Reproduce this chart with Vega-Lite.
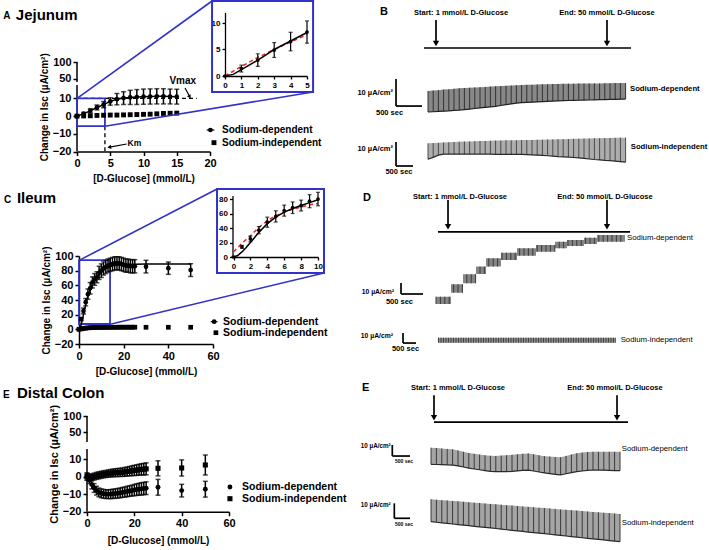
{
"$schema": "https://vega.github.io/schema/vega-lite/v6.json",
"width": 709, "height": 550, "autosize": "none", "padding": 0, "background": "white",
"config": {
  "view": {"stroke": null},
  "font": "Liberation Sans",
  "axis": {"grid": false, "domainColor": "black", "domainWidth": 1.5, "tickColor": "black", "tickWidth": 1.5, "tickSize": 4, "labelColor": "black", "labelFontWeight": "bold", "labelFontSize": 11, "labelPadding": 2, "labelFlush": false, "labelOverlap": false, "titleColor": "black", "titleFontWeight": "bold", "titleFontSize": 10}
},
"datasets": {
  "Adep": [{"x":0,"y":0,"e":0},{"x":1,"y":1.4,"e":0.65},{"x":2,"y":3,"e":1.2},{"x":3,"y":4.9,"e":1.4},{"x":4,"y":6.5,"e":1.75},{"x":5,"y":8.3,"e":2.1},{"x":6,"y":9.6,"e":3.2},{"x":7,"y":10.2,"e":3.6},{"x":8,"y":10.6,"e":4},{"x":9,"y":10.8,"e":4.2},{"x":10,"y":11,"e":4.3},{"x":11,"y":11.1,"e":4.3},{"x":12,"y":11.2,"e":4.3},{"x":13,"y":11.2,"e":4.3},{"x":14,"y":11.1,"e":4.2},{"x":15,"y":11,"e":4.2}],
  "Aind": [{"x":0,"y":0},{"x":1,"y":0.1},{"x":2,"y":0.2},{"x":3,"y":0.4},{"x":4,"y":0.5},{"x":5,"y":0.6},{"x":6,"y":0.6},{"x":7,"y":0.7},{"x":8,"y":0.8},{"x":9,"y":0.9},{"x":10,"y":1},{"x":11,"y":1.1},{"x":12,"y":1.3},{"x":13,"y":1.5},{"x":14,"y":1.6},{"x":15,"y":1.7}],
  "AinsetBlack": [{"x":0,"y":0},{"x":0.5,"y":0.3},{"x":1,"y":1.2},{"x":1.5,"y":2.1},{"x":2,"y":3.0},{"x":2.5,"y":4.0},{"x":3,"y":5.0},{"x":3.5,"y":5.8},{"x":4,"y":6.6},{"x":4.5,"y":7.4},{"x":5,"y":8.2}],
  "AinsetRed": [{"x":0,"y":0},{"x":1,"y":1.8},{"x":2,"y":3.5},{"x":3,"y":5},{"x":4,"y":6.4},{"x":5,"y":7.8}],
  "Cdep": [{"x":0,"y":0,"e":0},{"x":1,"y":14,"e":2},{"x":2,"y":25,"e":4},{"x":3,"y":37,"e":5},{"x":4,"y":48,"e":7},{"x":5,"y":56,"e":7.8},{"x":6,"y":64,"e":7.6},{"x":7,"y":68,"e":8},{"x":8,"y":71,"e":7.5},{"x":9,"y":77,"e":9},{"x":10,"y":80,"e":9.3},{"x":11,"y":83,"e":9},{"x":12,"y":85,"e":9},{"x":13,"y":87,"e":9},{"x":14,"y":88,"e":9},{"x":15,"y":89,"e":9},{"x":16,"y":90,"e":9},{"x":17,"y":90,"e":9},{"x":18,"y":90,"e":9},{"x":19,"y":89,"e":9},{"x":20,"y":88,"e":9},{"x":21,"y":87,"e":9},{"x":22,"y":87,"e":9},{"x":23,"y":86,"e":9},{"x":24,"y":86,"e":9},{"x":25,"y":86,"e":9},{"x":30,"y":85.5,"e":8.6},{"x":40,"y":83.4,"e":8.4},{"x":50,"y":80.8,"e":8.7}],
  "Cind": [{"x":0,"y":0},{"x":1,"y":0.6},{"x":2,"y":1.2},{"x":3,"y":1.6},{"x":4,"y":2},{"x":5,"y":2.2},{"x":6,"y":2.4},{"x":7,"y":2.5},{"x":8,"y":2.5},{"x":9,"y":2.6},{"x":10,"y":2.6},{"x":11,"y":2.7},{"x":12,"y":2.7},{"x":13,"y":2.7},{"x":14,"y":2.8},{"x":15,"y":2.8},{"x":16,"y":2.8},{"x":17,"y":2.8},{"x":18,"y":2.9},{"x":19,"y":2.9},{"x":20,"y":2.9},{"x":21,"y":2.9},{"x":22,"y":2.9},{"x":23,"y":2.9},{"x":24,"y":2.9},{"x":25,"y":2.9},{"x":30,"y":2.8},{"x":40,"y":2.8},{"x":50,"y":2.8}],
  "Cfit": [{"x":0,"y":0},{"x":0.5,"y":2},{"x":1,"y":7},{"x":1.5,"y":13},{"x":2,"y":20},{"x":2.5,"y":27},{"x":3,"y":34},{"x":3.5,"y":40},{"x":4,"y":46},{"x":5,"y":55},{"x":6,"y":62},{"x":7,"y":67},{"x":8,"y":71},{"x":9,"y":75},{"x":10,"y":79},{"x":12,"y":83},{"x":14,"y":86},{"x":16,"y":87.5},{"x":20,"y":88.5},{"x":30,"y":89},{"x":40,"y":89},{"x":50,"y":89}],
  "CinsetRed": [{"x":0,"y":7},{"x":0.5,"y":13},{"x":1,"y":19},{"x":2,"y":29},{"x":3,"y":41},{"x":4,"y":50},{"x":5,"y":57},{"x":6,"y":62},{"x":7,"y":66},{"x":8,"y":69},{"x":9,"y":72},{"x":10,"y":74}],
  "Edep": [{"x":0,"y":0,"e":2},{"x":1,"y":-2,"e":2},{"x":2,"y":-4.5,"e":2.5},{"x":3,"y":-6.5,"e":2.5},{"x":4,"y":-8,"e":2.5},{"x":5,"y":-9,"e":2.5},{"x":6,"y":-9.5,"e":2.5},{"x":7,"y":-9.8,"e":2.5},{"x":8,"y":-10,"e":2.5},{"x":9,"y":-10,"e":2.5},{"x":10,"y":-10,"e":2.6},{"x":11,"y":-9.8,"e":2.6},{"x":12,"y":-9.7,"e":2.7},{"x":13,"y":-9.5,"e":2.7},{"x":14,"y":-9.3,"e":2.8},{"x":15,"y":-9,"e":2.8},{"x":16,"y":-8.8,"e":2.9},{"x":17,"y":-8.5,"e":3},{"x":18,"y":-8.2,"e":3},{"x":19,"y":-8,"e":3.1},{"x":20,"y":-7.7,"e":3.2},{"x":21,"y":-7.4,"e":3.3},{"x":22,"y":-7.2,"e":3.4},{"x":23,"y":-7,"e":3.5},{"x":24,"y":-6.8,"e":3.5},{"x":25,"y":-6.6,"e":3.6},{"x":30,"y":-6.1,"e":4.5},{"x":40,"y":-8,"e":3.6},{"x":50,"y":-7.2,"e":4.5}],
  "Eind": [{"x":0,"y":0,"e":2},{"x":1,"y":-0.5,"e":2},{"x":2,"y":-0.5,"e":2},{"x":3,"y":0,"e":2},{"x":4,"y":0.4,"e":2},{"x":5,"y":0.7,"e":2},{"x":6,"y":1,"e":2},{"x":7,"y":1.3,"e":2},{"x":8,"y":1.5,"e":2},{"x":9,"y":1.7,"e":2.1},{"x":10,"y":1.9,"e":2.1},{"x":11,"y":2.1,"e":2.2},{"x":12,"y":2.2,"e":2.2},{"x":13,"y":2.3,"e":2.3},{"x":14,"y":2.4,"e":2.3},{"x":15,"y":2.5,"e":2.4},{"x":16,"y":2.7,"e":2.5},{"x":17,"y":2.9,"e":2.6},{"x":18,"y":3.1,"e":2.7},{"x":19,"y":3.3,"e":2.8},{"x":20,"y":3.5,"e":2.9},{"x":21,"y":3.7,"e":3},{"x":22,"y":3.9,"e":3.1},{"x":23,"y":4.1,"e":3.2},{"x":24,"y":4.2,"e":3.3},{"x":25,"y":4.4,"e":3.4},{"x":30,"y":4.7,"e":4.3},{"x":40,"y":4.9,"e":4.6},{"x":50,"y":6.6,"e":5.7}],
  "B1": [{"x":0,"y":0,"y2":7.8},{"x":100,"y":0.1,"y2":8},{"x":200,"y":0.2,"y2":8.1},{"x":300,"y":0.3,"y2":8.3},{"x":400,"y":0.4,"y2":8.4},{"x":500,"y":0.6,"y2":8.6},{"x":600,"y":0.7,"y2":8.8},{"x":700,"y":0.9,"y2":8.9},{"x":800,"y":1.1,"y2":9},{"x":900,"y":1.3,"y2":9.1},{"x":1000,"y":1.5,"y2":9.2},{"x":1100,"y":1.7,"y2":9.3},{"x":1200,"y":1.9,"y2":9.4},{"x":1300,"y":2.1,"y2":9.5},{"x":1400,"y":2.4,"y2":9.6},{"x":1500,"y":2.7,"y2":9.7},{"x":1600,"y":3,"y2":9.8},{"x":1700,"y":3.3,"y2":9.9},{"x":1800,"y":3.45,"y2":10},{"x":1900,"y":3.55,"y2":10.05},{"x":2000,"y":3.65,"y2":10.1},{"x":2100,"y":3.75,"y2":10.2},{"x":2200,"y":3.85,"y2":10.25},{"x":2300,"y":3.95,"y2":10.3},{"x":2400,"y":4.05,"y2":10.35},{"x":2500,"y":4.15,"y2":10.4},{"x":2600,"y":4.2,"y2":10.45},{"x":2700,"y":4.25,"y2":10.5},{"x":2800,"y":4.3,"y2":10.5},{"x":2900,"y":4.35,"y2":10.55},{"x":3000,"y":4.4,"y2":10.55},{"x":3100,"y":4.45,"y2":10.6},{"x":3200,"y":4.5,"y2":10.6},{"x":3300,"y":4.55,"y2":10.6},{"x":3400,"y":4.6,"y2":10.65},{"x":3500,"y":4.65,"y2":10.65},{"x":3600,"y":4.7,"y2":10.7},{"x":3700,"y":4.75,"y2":10.7},{"x":3800,"y":4.8,"y2":10.7}],
  "B2": [{"x":0,"y":-17.5,"y2":-11.6},{"x":100,"y":-16.8,"y2":-11.5},{"x":200,"y":-16,"y2":-11.4},{"x":300,"y":-15.6,"y2":-11.3},{"x":400,"y":-15.6,"y2":-11.2},{"x":500,"y":-15.6,"y2":-11.1},{"x":600,"y":-15.6,"y2":-11},{"x":700,"y":-15.6,"y2":-10.95},{"x":800,"y":-15.6,"y2":-10.9},{"x":900,"y":-15.6,"y2":-10.8},{"x":1000,"y":-15.6,"y2":-10.75},{"x":1100,"y":-15.6,"y2":-10.7},{"x":1200,"y":-15.6,"y2":-10.65},{"x":1300,"y":-15.7,"y2":-10.6},{"x":1400,"y":-15.7,"y2":-10.55},{"x":1500,"y":-15.7,"y2":-10.5},{"x":1600,"y":-15.7,"y2":-10.5},{"x":1700,"y":-15.7,"y2":-10.45},{"x":1800,"y":-15.7,"y2":-10.4},{"x":1900,"y":-15.8,"y2":-10.4},{"x":2000,"y":-15.9,"y2":-10.35},{"x":2100,"y":-16,"y2":-10.3},{"x":2200,"y":-16.1,"y2":-10.25},{"x":2300,"y":-16.2,"y2":-10.2},{"x":2400,"y":-16.35,"y2":-10.15},{"x":2500,"y":-16.5,"y2":-10.1},{"x":2600,"y":-16.6,"y2":-10.05},{"x":2700,"y":-16.7,"y2":-10},{"x":2800,"y":-16.85,"y2":-9.95},{"x":2900,"y":-17,"y2":-9.9},{"x":3000,"y":-17.2,"y2":-9.85},{"x":3100,"y":-17.4,"y2":-9.8},{"x":3200,"y":-17.6,"y2":-9.75},{"x":3300,"y":-17.75,"y2":-9.7},{"x":3400,"y":-17.9,"y2":-9.65},{"x":3500,"y":-18,"y2":-9.6},{"x":3600,"y":-18.2,"y2":-9.55},{"x":3700,"y":-18.4,"y2":-9.5},{"x":3800,"y":-18.6,"y2":-9.5}],
  "D1area": [{"x":0,"y":0,"y2":6.6},{"x":341,"y":10.3,"y2":17.9},{"x":614,"y":18.8,"y2":27},{"x":909,"y":27.3,"y2":34},{"x":1136,"y":34,"y2":41.5},{"x":1477,"y":40,"y2":46.6},{"x":1841,"y":43.9,"y2":50.6},{"x":2273,"y":47.5,"y2":53.6},{"x":2705,"y":50.6,"y2":56.6},{"x":2977,"y":52.7,"y2":58.2},{"x":3364,"y":54.5,"y2":60.3},{"x":3659,"y":56.6,"y2":62.7},{"x":4295,"y":56.6,"y2":62.7}],
  "D1": [{"x":0,"y":0,"y2":6.6},{"x":100,"y":0,"y2":6.6},{"x":200,"y":0,"y2":6.6},{"x":300,"y":0,"y2":6.6},{"x":400,"y":10.3,"y2":17.9},{"x":500,"y":10.3,"y2":17.9},{"x":600,"y":10.3,"y2":17.9},{"x":700,"y":18.8,"y2":27},{"x":800,"y":18.8,"y2":27},{"x":900,"y":18.8,"y2":27},{"x":1000,"y":27.3,"y2":34},{"x":1100,"y":27.3,"y2":34},{"x":1200,"y":34,"y2":41.5},{"x":1300,"y":34,"y2":41.5},{"x":1400,"y":34,"y2":41.5},{"x":1500,"y":40,"y2":46.6},{"x":1600,"y":40,"y2":46.6},{"x":1700,"y":40,"y2":46.6},{"x":1800,"y":40,"y2":46.6},{"x":1900,"y":43.9,"y2":50.6},{"x":2000,"y":43.9,"y2":50.6},{"x":2100,"y":43.9,"y2":50.6},{"x":2200,"y":43.9,"y2":50.6},{"x":2300,"y":47.5,"y2":53.6},{"x":2400,"y":47.5,"y2":53.6},{"x":2500,"y":47.5,"y2":53.6},{"x":2600,"y":47.5,"y2":53.6},{"x":2700,"y":47.5,"y2":53.6},{"x":2800,"y":50.6,"y2":56.6},{"x":2900,"y":50.6,"y2":56.6},{"x":3000,"y":52.7,"y2":58.2},{"x":3100,"y":52.7,"y2":58.2},{"x":3200,"y":52.7,"y2":58.2},{"x":3300,"y":52.7,"y2":58.2},{"x":3400,"y":54.5,"y2":60.3},{"x":3500,"y":54.5,"y2":60.3},{"x":3600,"y":54.5,"y2":60.3},{"x":3700,"y":56.6,"y2":62.7},{"x":3800,"y":56.6,"y2":62.7},{"x":3900,"y":56.6,"y2":62.7},{"x":4000,"y":56.6,"y2":62.7},{"x":4100,"y":56.6,"y2":62.7},{"x":4200,"y":56.6,"y2":62.7}],
  "D2": [{"x":45,"y":-35.2,"y2":-30.6},{"x":4091,"y":-35.2,"y2":-30.6}],
  "E1": [{"x":0,"y":5.2,"y2":20.3},{"x":150,"y":5,"y2":20},{"x":300,"y":4.9,"y2":19.6},{"x":450,"y":4.7,"y2":19.2},{"x":600,"y":4.5,"y2":18.8},{"x":750,"y":3.7,"y2":17.8},{"x":900,"y":2.7,"y2":16.6},{"x":1050,"y":1.7,"y2":15.4},{"x":1200,"y":0.9,"y2":14.7},{"x":1350,"y":0.2,"y2":14},{"x":1500,"y":-0.5,"y2":13.4},{"x":1650,"y":-1.2,"y2":12.9},{"x":1800,"y":-1.5,"y2":12.8},{"x":1950,"y":-1.5,"y2":13.1},{"x":2100,"y":-1.5,"y2":13.4},{"x":2250,"y":-1.3,"y2":13.8},{"x":2400,"y":-0.8,"y2":14.3},{"x":2550,"y":-0.3,"y2":14.8},{"x":2700,"y":-0.1,"y2":15.1},{"x":2850,"y":-0.9,"y2":14.3},{"x":3000,"y":-1.8,"y2":13.4},{"x":3150,"y":-2.6,"y2":12.6},{"x":3300,"y":-3.3,"y2":12.2},{"x":3450,"y":-3.9,"y2":11.8},{"x":3600,"y":-4.4,"y2":11.6},{"x":3750,"y":-3.4,"y2":12.8},{"x":3900,"y":-2.4,"y2":14},{"x":4050,"y":-1.5,"y2":15.2},{"x":4200,"y":-0.9,"y2":15.8},{"x":4350,"y":-0.4,"y2":16.4},{"x":4500,"y":0,"y2":16.6},{"x":4650,"y":-0.1,"y2":16.6},{"x":4800,"y":-0.2,"y2":16.6},{"x":4950,"y":-0.4,"y2":16.6},{"x":5100,"y":-0.5,"y2":16.6},{"x":5250,"y":-0.6,"y2":16.6}],
  "E2": [{"x":0,"y":-47,"y2":-26.6},{"x":150,"y":-47.5,"y2":-27},{"x":300,"y":-48,"y2":-27.4},{"x":450,"y":-48.6,"y2":-27.7},{"x":600,"y":-49.1,"y2":-28.1},{"x":750,"y":-49.6,"y2":-28.5},{"x":900,"y":-50.1,"y2":-28.9},{"x":1050,"y":-50.6,"y2":-29.3},{"x":1200,"y":-51.2,"y2":-29.7},{"x":1350,"y":-51.7,"y2":-30},{"x":1500,"y":-52.2,"y2":-30.4},{"x":1650,"y":-52.7,"y2":-30.8},{"x":1800,"y":-53.2,"y2":-31.2},{"x":1950,"y":-53.8,"y2":-31.6},{"x":2100,"y":-54.3,"y2":-32},{"x":2250,"y":-54.8,"y2":-32.3},{"x":2400,"y":-55.3,"y2":-32.7},{"x":2550,"y":-55.8,"y2":-33.1},{"x":2700,"y":-56.4,"y2":-33.5},{"x":2850,"y":-56.9,"y2":-33.9},{"x":3000,"y":-57.4,"y2":-34.3},{"x":3150,"y":-57.9,"y2":-34.6},{"x":3300,"y":-58.4,"y2":-35},{"x":3450,"y":-59,"y2":-35.4},{"x":3600,"y":-59.5,"y2":-35.8},{"x":3750,"y":-60,"y2":-36.2},{"x":3900,"y":-60.5,"y2":-36.6},{"x":4050,"y":-61,"y2":-36.9},{"x":4200,"y":-61.6,"y2":-37.3},{"x":4350,"y":-62.1,"y2":-37.7},{"x":4500,"y":-62.6,"y2":-38.1},{"x":4650,"y":-63.1,"y2":-38.5},{"x":4800,"y":-63.6,"y2":-38.9},{"x":4950,"y":-64.2,"y2":-39.2},{"x":5100,"y":-64.7,"y2":-39.6},{"x":5250,"y":-65.2,"y2":-40}]
},
"resolve": {"scale": {"x": "independent", "y": "independent"}},
"layer": [
 {
  "encoding": {
   "x": {"field":"x","type":"quantitative","scale":{"domain":[0,20],"range":[77,210],"nice":false,"zero":false},"axis":{"orient":"bottom","offset":-398.5,"values":[0,5,10,15,20],"title":"[D-Glucose] (mmol/L)","titlePadding":5}},
   "y": {"field":"y","type":"quantitative","scale":{"domain":[-20,17.6,41,100],"range":[151.5,85,82,62],"nice":false,"zero":false},"axis":{"orient":"left","offset":-77,"values":[-20,-10,0,10,50,100],"domain":false,"title":"Change in Isc  (µA/cm²)","titlePadding":3}}
  },
  "layer": [
   {"data":{"values":[{"x":0,"y":-20,"y2":17.6},{"x":0,"y":41,"y2":100}]},"mark":{"type":"rule","color":"black","strokeWidth":1.5},"encoding":{"y2":{"field":"y2"}}},
   {"data":{"values":[{"x":0,"y":10,"x2":18,"y2":10},{"x":4.2,"y":-5.7,"x2":4.2,"y2":-20}]},"mark":{"type":"rule","color":"black","strokeWidth":1.3,"strokeDash":[4,3]},"encoding":{"x2":{"field":"x2"},"y2":{"field":"y2"}}},
   {"data":{"values":[{"x":0,"x2":4.2,"y":-5.7,"y2":10}]},"mark":{"type":"rect","filled":false,"color":"#3232c8","strokeWidth":1.8},"encoding":{"x2":{"field":"x2"},"y2":{"field":"y2"}}},
   {"data":{"name":"Adep"},"mark":{"type":"errorbar","ticks":true,"size":5,"thickness":1.5,"color":"black"},"encoding":{"yError":{"field":"e"}}},
   {"data":{"name":"Adep"},"mark":{"type":"line","color":"black","strokeWidth":1.5}},
   {"data":{"name":"Adep"},"mark":{"type":"point","shape":"circle","filled":true,"color":"black","size":22,"opacity":1}},
   {"data":{"name":"Aind"},"mark":{"type":"point","shape":"square","filled":true,"color":"black","size":24,"opacity":1}},
   {"data":{"values":[{"x":16.24,"y":15.9,"x2":16.99,"y2":10.81},{"x":7.47,"y":-15.76,"x2":4.71,"y2":-17.63},{"x":19.5,"y":-7.85,"x2":20.65,"y2":-7.85}]},"mark":{"type":"rule","color":"black","strokeWidth":1.2},"encoding":{"x2":{"field":"x2"},"y2":{"field":"y2"}}},
   {"data":{"values":[{"x":16.9,"y":11.2}]},"mark":{"type":"point","shape":"triangle","filled":true,"color":"black","size":18,"opacity":1,"angle":151}},
   {"data":{"values":[{"x":4.95,"y":-17.5}]},"mark":{"type":"point","shape":"triangle","filled":true,"color":"black","size":18,"opacity":1,"angle":260}},
   {"data":{"values":[{"x":20.06,"y":-7.85}]},"mark":{"type":"point","shape":"circle","filled":true,"color":"black","size":22,"opacity":1}},
   {"data":{"values":[{"x":20.6,"y":-15}]},"mark":{"type":"point","shape":"square","filled":true,"color":"black","size":24,"opacity":1}},
   {"data":{"values":[{"x":-9.2,"y":238,"t":"Jejunum"}]},"mark":{"type":"text","align":"left","baseline":"middle","fontSize":15,"fontWeight":"bold","color":"black"},"encoding":{"text":{"field":"t"}}},
   {"data":{"values":[{"x":-11.1,"y":235,"t":"A"}]},"mark":{"type":"text","align":"left","baseline":"middle","fontSize":10,"fontWeight":"bold","color":"black"},"encoding":{"text":{"field":"t"}}},
   {"data":{"values":[{"x":15.9,"y":44,"t":"Vmax"}]},"mark":{"type":"text","align":"center","baseline":"middle","fontSize":10,"fontWeight":"bold","color":"black"},"encoding":{"text":{"field":"t"}}},
   {"data":{"values":[{"x":7.6,"y":-15.1,"t":"Km"}]},"mark":{"type":"text","align":"left","baseline":"middle","fontSize":8.5,"fontWeight":"bold","color":"black"},"encoding":{"text":{"field":"t"}}},
   {"data":{"values":[{"x":21.8,"y":-7.85,"t":"Sodium-dependent"},{"x":21.8,"y":-15,"t":"Sodium-independent"}]},"mark":{"type":"text","align":"left","baseline":"middle","fontSize":10,"fontWeight":"bold","color":"black"},"encoding":{"text":{"field":"t"}}}
  ]
 },
 {
  "encoding": {
   "x": {"field":"x","type":"quantitative","scale":{"domain":[0,5],"range":[225,307],"nice":false,"zero":false},"axis":{"orient":"bottom","offset":-474,"values":[0,1,2,3,4,5],"title":null,"labelFontSize":8,"tickSize":3,"domainWidth":1.3,"tickWidth":1.3}},
   "y": {"field":"y","type":"quantitative","scale":{"domain":[0,12],"range":[76,12.4],"nice":false,"zero":false},"axis":{"orient":"left","offset":-225,"values":[0,5,10],"title":null,"labelFontSize":8,"tickSize":3,"domainWidth":1.3,"tickWidth":1.3}}
  },
  "layer": [
   {"data":{"values":[{"x":-0.79,"x2":5.37,"y":-3.02,"y2":14.15}]},"mark":{"type":"rect","filled":false,"color":"#3232c8","strokeWidth":2},"encoding":{"x2":{"field":"x2"},"y2":{"field":"y2"}}},
   {"data":{"values":[{"x":-9.02,"y":-4.23,"x2":-0.79,"y2":14.15},{"x":-7.32,"y":-9.47,"x2":5.37,"y2":-3.02}]},"mark":{"type":"rule","color":"#3232c8","strokeWidth":1.6},"encoding":{"x2":{"field":"x2"},"y2":{"field":"y2"}}},
   {"data":{"name":"AinsetRed"},"mark":{"type":"line","color":"#e0282d","strokeWidth":1.5,"strokeDash":[4,3]}},
   {"data":{"name":"AinsetBlack"},"mark":{"type":"line","color":"black","strokeWidth":1.5}},
   {"data":{"name":"Adep"},"transform":[{"filter":"datum.x <= 5"}],"mark":{"type":"errorbar","ticks":true,"size":4,"thickness":1.2,"color":"black"},"encoding":{"yError":{"field":"e"}}},
   {"data":{"name":"Adep"},"transform":[{"filter":"datum.x <= 5"}],"mark":{"type":"point","shape":"circle","filled":true,"color":"black","size":14,"opacity":1}}
  ]
 },
 {
  "encoding": {
   "x": {"field":"x","type":"quantitative","scale":{"domain":[0,60],"range":[79,213],"nice":false,"zero":false},"axis":{"orient":"bottom","offset":-206,"values":[0,20,40,60],"title":"[D-Glucose] (mmol/L)","titlePadding":5}},
   "y": {"field":"y","type":"quantitative","scale":{"domain":[-20,100],"range":[344,256],"nice":false,"zero":false},"axis":{"orient":"left","offset":-79,"values":[-20,0,20,40,60,80,100],"title":"Change in Isc  (µA/cm²)","titlePadding":3}}
  },
  "layer": [
   {"data":{"values":[{"x":0,"x2":13.9,"y":7.3,"y2":94.5}]},"mark":{"type":"rect","filled":false,"color":"#3232c8","strokeWidth":1.8},"encoding":{"x2":{"field":"x2"},"y2":{"field":"y2"}}},
   {"data":{"name":"Cfit"},"mark":{"type":"line","color":"black","strokeWidth":1.5}},
   {"data":{"name":"Cdep"},"mark":{"type":"errorbar","ticks":true,"size":5,"thickness":1.5,"color":"black"},"encoding":{"yError":{"field":"e"}}},
   {"data":{"name":"Cdep"},"mark":{"type":"point","shape":"circle","filled":true,"color":"black","size":22,"opacity":1}},
   {"data":{"name":"Cind"},"mark":{"type":"point","shape":"square","filled":true,"color":"black","size":22,"opacity":1}},
   {"data":{"values":[{"x":59,"y":10.4,"x2":62,"y2":10.4}]},"mark":{"type":"rule","color":"black","strokeWidth":1.2},"encoding":{"x2":{"field":"x2"},"y2":{"field":"y2"}}},
   {"data":{"values":[{"x":60.5,"y":10.4}]},"mark":{"type":"point","shape":"circle","filled":true,"color":"black","size":22,"opacity":1}},
   {"data":{"values":[{"x":61.3,"y":-4.6}]},"mark":{"type":"point","shape":"square","filled":true,"color":"black","size":22,"opacity":1}},
   {"data":{"values":[{"x":64.5,"y":10.4,"t":"Sodium-dependent"},{"x":64.5,"y":-4.6,"t":"Sodium-independent"}]},"mark":{"type":"text","align":"left","baseline":"middle","fontSize":10.5,"fontWeight":"bold","color":"black"},"encoding":{"text":{"field":"t"}}},
   {"data":{"values":[{"x":-27.8,"y":179,"t":"Ileum"}]},"mark":{"type":"text","align":"left","baseline":"middle","fontSize":15,"fontWeight":"bold","color":"black"},"encoding":{"text":{"field":"t"}}},
   {"data":{"values":[{"x":-33.6,"y":177,"t":"C"}]},"mark":{"type":"text","align":"left","baseline":"middle","fontSize":10,"fontWeight":"bold","color":"black"},"encoding":{"text":{"field":"t"}}}
  ]
 },
 {
  "encoding": {
   "x": {"field":"x","type":"quantitative","scale":{"domain":[0,10],"range":[233.5,318],"nice":false,"zero":false},"axis":{"orient":"bottom","offset":-293,"values":[0,2,4,6,8,10],"title":null,"labelFontSize":8,"tickSize":3,"domainWidth":1.3,"tickWidth":1.3}},
   "y": {"field":"y","type":"quantitative","scale":{"domain":[0,85],"range":[257,195.4],"nice":false,"zero":false},"axis":{"orient":"left","offset":-232.5,"values":[0,20,40,60,80],"title":null,"labelFontSize":8,"tickSize":3,"domainWidth":1.3,"tickWidth":1.3}}
  },
  "layer": [
   {"data":{"values":[{"x":-1.95,"x2":10.71,"y":-22.1,"y2":93.8}]},"mark":{"type":"rect","filled":false,"color":"#3232c8","strokeWidth":2},"encoding":{"x2":{"field":"x2"},"y2":{"field":"y2"}}},
   {"data":{"values":[{"x":-18.28,"y":-4.69,"x2":-1.95,"y2":93.8},{"x":-14.58,"y":-92.7,"x2":10.71,"y2":-22.1}]},"mark":{"type":"rule","color":"#3232c8","strokeWidth":1.6},"encoding":{"x2":{"field":"x2"},"y2":{"field":"y2"}}},
   {"data":{"name":"CinsetRed"},"mark":{"type":"line","color":"#e0282d","strokeWidth":1.5,"strokeDash":[4,3]}},
   {"data":{"name":"Cfit"},"transform":[{"filter":"datum.x <= 10"}],"mark":{"type":"line","color":"black","strokeWidth":1.5}},
   {"data":{"name":"Cdep"},"transform":[{"filter":"datum.x <= 10"}],"mark":{"type":"errorbar","ticks":true,"size":4,"thickness":1.2,"color":"black"},"encoding":{"yError":{"field":"e"}}},
   {"data":{"name":"Cdep"},"transform":[{"filter":"datum.x <= 10"}],"mark":{"type":"point","shape":"circle","filled":true,"color":"black","size":14,"opacity":1}}
  ]
 },
 {
  "encoding": {
   "x": {"field":"x","type":"quantitative","scale":{"domain":[0,60],"range":[87,229],"nice":false,"zero":false},"axis":{"orient":"bottom","offset":-38.3,"values":[0,20,40,60],"title":"[D-Glucose] (mmol/L)","titlePadding":7}},
   "y": {"field":"y","type":"quantitative","scale":{"domain":[-20,15.7,19,100],"range":[511.7,449,442,416],"nice":false,"zero":false},"axis":{"orient":"left","offset":-87,"values":[-20,-10,0,10,50,100],"domain":false,"title":"Change in Isc  (µA/cm²)","titleFontSize":11,"titlePadding":3}}
  },
  "layer": [
   {"data":{"values":[{"x":0,"y":-20,"y2":15.7},{"x":0,"y":19,"y2":100}]},"mark":{"type":"rule","color":"black","strokeWidth":1.5},"encoding":{"y2":{"field":"y2"}}},
   {"data":{"name":"Edep"},"mark":{"type":"errorbar","ticks":true,"size":5,"thickness":1.5,"color":"black"},"encoding":{"yError":{"field":"e"}}},
   {"data":{"name":"Eind"},"mark":{"type":"errorbar","ticks":true,"size":5,"thickness":1.5,"color":"black"},"encoding":{"yError":{"field":"e"}}},
   {"data":{"name":"Edep"},"mark":{"type":"point","shape":"circle","filled":true,"color":"black","size":24,"opacity":1}},
   {"data":{"name":"Eind"},"mark":{"type":"point","shape":"square","filled":true,"color":"black","size":26,"opacity":1}},
   {"data":{"values":[{"x":60.4,"y":-5.93}]},"mark":{"type":"point","shape":"circle","filled":true,"color":"black","size":24,"opacity":1}},
   {"data":{"values":[{"x":60.4,"y":-12.6}]},"mark":{"type":"point","shape":"square","filled":true,"color":"black","size":26,"opacity":1}},
   {"data":{"values":[{"x":65.5,"y":-5.93,"t":"Sodium-dependent"},{"x":65.5,"y":-12.6,"t":"Sodium-independent"}]},"mark":{"type":"text","align":"left","baseline":"middle","fontSize":10.5,"fontWeight":"bold","color":"black"},"encoding":{"text":{"field":"t"}}},
   {"data":{"values":[{"x":-29.6,"y":171.7,"t":"Distal Colon"}]},"mark":{"type":"text","align":"left","baseline":"middle","fontSize":15,"fontWeight":"bold","color":"black"},"encoding":{"text":{"field":"t"}}},
   {"data":{"values":[{"x":-35.5,"y":166,"t":"E"}]},"mark":{"type":"text","align":"left","baseline":"middle","fontSize":10,"fontWeight":"bold","color":"black"},"encoding":{"text":{"field":"t"}}}
  ]
 },
 {
  "encoding": {
   "x": {"field":"x","type":"quantitative","scale":{"domain":[0,4000],"range":[428,636],"nice":false,"zero":false},"axis":null},
   "y": {"field":"y","type":"quantitative","scale":{"domain":[0,10],"range":[112,85],"nice":false,"zero":false},"axis":null}
  },
  "layer": [
   {"data":{"name":"B1"},"mark":{"type":"area","color":"#888888"},"encoding":{"y2":{"field":"y2"}}},
   {"data":{"name":"B1"},"mark":{"type":"rule","color":"#333333","strokeWidth":1},"encoding":{"y2":{"field":"y2"}}},
   {"data":{"name":"B1"},"mark":{"type":"line","color":"#222222","strokeWidth":1.2}},
   {"data":{"name":"B2"},"mark":{"type":"area","color":"#adadad"},"encoding":{"y2":{"field":"y2"}}},
   {"data":{"name":"B2"},"mark":{"type":"rule","color":"#4a4a4a","strokeWidth":1},"encoding":{"y2":{"field":"y2"}}},
   {"data":{"name":"B2"},"mark":{"type":"line","color":"#2a2a2a","strokeWidth":1.2}},
   {"data":{"values":[{"x":-77,"y":23.7,"x2":3904,"y2":23.7},{"x":154,"y":34.1,"x2":154,"y2":26},{"x":3442,"y":34.1,"x2":3442,"y2":26},{"x":-615,"y":12.2,"x2":-615,"y2":2.2},{"x":-615,"y":2.2,"x2":-115,"y2":2.2},{"x":-615,"y":-11.1,"x2":-615,"y2":-20},{"x":-615,"y":-20,"x2":-288,"y2":-20}]},"mark":{"type":"rule","color":"black","strokeWidth":1.7},"encoding":{"x2":{"field":"x2"},"y2":{"field":"y2"}}},
   {"data":{"values":[{"x":154,"y":25.4},{"x":3442,"y":25.4}]},"mark":{"type":"point","shape":"triangle-down","filled":true,"color":"black","size":40,"opacity":1}},
   {"data":{"values":[{"x":635,"y":36.7,"t":"Start: 1 mmol/L D-Glucose"},{"x":3442,"y":36.7,"t":"End: 50 mmol/L D-Glucose"},{"x":-740,"y":-0.4,"t":"500 sec"},{"x":-558,"y":-22.2,"t":"500 sec"}]},"mark":{"type":"text","align":"center","baseline":"middle","fontSize":7.5,"fontWeight":"bold","color":"black"},"encoding":{"text":{"field":"t"}}},
   {"data":{"values":[{"x":-673,"y":7,"t":"10 µA/cm²"},{"x":-673,"y":-13.7,"t":"10 µA/cm²"}]},"mark":{"type":"text","align":"right","baseline":"middle","fontSize":7.5,"fontWeight":"bold","color":"black"},"encoding":{"text":{"field":"t"}}},
   {"data":{"values":[{"x":3885,"y":8.5,"t":"Sodium-dependent"},{"x":3900,"y":-13,"t":"Sodium-independent"}]},"mark":{"type":"text","align":"left","baseline":"middle","fontSize":7.7,"fontWeight":"bold","color":"black"},"encoding":{"text":{"field":"t"}}},
   {"data":{"values":[{"x":-923,"y":37,"t":"B"}]},"mark":{"type":"text","align":"left","baseline":"middle","fontSize":11,"fontWeight":"bold","color":"black"},"encoding":{"text":{"field":"t"}}}
  ]
 },
 {
  "encoding": {
   "x": {"field":"x","type":"quantitative","scale":{"domain":[0,4500],"range":[436,634],"nice":false,"zero":false},"axis":null},
   "y": {"field":"y","type":"quantitative","scale":{"domain":[0,60],"range":[304,238],"nice":false,"zero":false},"axis":null}
  },
  "layer": [
   {"data":{"name":"D1area"},"mark":{"type":"area","color":"#858585","interpolate":"step-after"},"encoding":{"y2":{"field":"y2"}}},
   {"data":{"name":"D1"},"mark":{"type":"rule","color":"#3a3a3a","strokeWidth":1},"encoding":{"y2":{"field":"y2"}}},
   {"data":{"name":"D2"},"mark":{"type":"area","color":"#8c8c8c"},"encoding":{"y2":{"field":"y2"}}},
   {"data":{"values":[{"x":45,"y":-32.9,"x2":4091,"y2":-32.9}]},"mark":{"type":"rule","color":"#444444","strokeWidth":5,"strokeDash":[1,1.5]},"encoding":{"x2":{"field":"x2"},"y2":{"field":"y2"}}},
   {"data":{"values":[{"x":45,"y":65.5,"x2":4409,"y2":65.5},{"x":273,"y":94.5,"x2":273,"y2":69},{"x":3886,"y":94.5,"x2":3886,"y2":69},{"x":-795,"y":19.1,"x2":-795,"y2":9.1},{"x":-795,"y":9.1,"x2":-295,"y2":9.1},{"x":-750,"y":-26.4,"x2":-750,"y2":-35.5},{"x":-750,"y":-35.5,"x2":-455,"y2":-35.5}]},"mark":{"type":"rule","color":"black","strokeWidth":1.7},"encoding":{"x2":{"field":"x2"},"y2":{"field":"y2"}}},
   {"data":{"values":[{"x":273,"y":70.3},{"x":3886,"y":70.3}]},"mark":{"type":"point","shape":"triangle-down","filled":true,"color":"black","size":40,"opacity":1}},
   {"data":{"values":[{"x":545,"y":97.3,"t":"Start: 1 mmol/L D-Glucose"},{"x":3841,"y":97.3,"t":"End: 50 mmol/L D-Glucose"},{"x":-830,"y":1.5,"t":"500 sec"},{"x":-693,"y":-40.9,"t":"500 sec"}]},"mark":{"type":"text","align":"center","baseline":"middle","fontSize":7.5,"fontWeight":"bold","color":"black"},"encoding":{"text":{"field":"t"}}},
   {"data":{"values":[{"x":-955,"y":10.9,"t":"10 µA/cm²"},{"x":-977,"y":-28.8,"t":"10 µA/cm²"}]},"mark":{"type":"text","align":"right","baseline":"middle","fontSize":6.8,"fontWeight":"bold","color":"black"},"encoding":{"text":{"field":"t"}}},
   {"data":{"values":[{"x":4341,"y":60,"t":"Sodium-dependent"},{"x":4197,"y":-32.7,"t":"Sodium-independent"}]},"mark":{"type":"text","align":"left","baseline":"middle","fontSize":7.8,"color":"black"},"encoding":{"text":{"field":"t"}}},
   {"data":{"values":[{"x":-1659,"y":96.4,"t":"D"}]},"mark":{"type":"text","align":"left","baseline":"middle","fontSize":11,"fontWeight":"bold","color":"black"},"encoding":{"text":{"field":"t"}}}
  ]
 },
 {
  "encoding": {
   "x": {"field":"x","type":"quantitative","scale":{"domain":[0,5000],"range":[431,611],"nice":false,"zero":false},"axis":null},
   "y": {"field":"y","type":"quantitative","scale":{"domain":[0,20],"range":[470,448],"nice":false,"zero":false},"axis":null}
  },
  "layer": [
   {"data":{"name":"E1"},"mark":{"type":"area","color":"#a5a5a5"},"encoding":{"y2":{"field":"y2"}}},
   {"data":{"name":"E1"},"mark":{"type":"rule","color":"#3a3a3a","strokeWidth":1},"encoding":{"y2":{"field":"y2"}}},
   {"data":{"name":"E1"},"mark":{"type":"line","color":"#2a2a2a","strokeWidth":1.2}},
   {"data":{"name":"E2"},"mark":{"type":"area","color":"#a5a5a5"},"encoding":{"y2":{"field":"y2"}}},
   {"data":{"name":"E2"},"mark":{"type":"rule","color":"#3a3a3a","strokeWidth":1},"encoding":{"y2":{"field":"y2"}}},
   {"data":{"name":"E2"},"mark":{"type":"line","color":"#2a2a2a","strokeWidth":1.2}},
   {"data":{"values":[{"x":83,"y":43.6,"x2":5472,"y2":43.6},{"x":83,"y":68,"x2":83,"y2":48},{"x":5167,"y":68,"x2":5167,"y2":48},{"x":-1075,"y":22.7,"x2":-1075,"y2":12.7},{"x":-1075,"y":12.7,"x2":-583,"y2":12.7},{"x":-1019,"y":-30.3,"x2":-1019,"y2":-43.9},{"x":-1019,"y":-43.9,"x2":-583,"y2":-43.9}]},"mark":{"type":"rule","color":"black","strokeWidth":1.7},"encoding":{"x2":{"field":"x2"},"y2":{"field":"y2"}}},
   {"data":{"values":[{"x":83,"y":47.5},{"x":5167,"y":47.5}]},"mark":{"type":"point","shape":"triangle-down","filled":true,"color":"black","size":40,"opacity":1}},
   {"data":{"values":[{"x":750,"y":74.5,"t":"Start: 1 mmol/L D-Glucose"},{"x":5111,"y":74.5,"t":"End: 50 mmol/L D-Glucose"}]},"mark":{"type":"text","align":"center","baseline":"middle","fontSize":7.5,"fontWeight":"bold","color":"black"},"encoding":{"text":{"field":"t"}}},
   {"data":{"values":[{"x":-750,"y":8.5,"t":"500 sec"},{"x":-750,"y":-49,"t":"500 sec"}]},"mark":{"type":"text","align":"center","baseline":"middle","fontSize":5,"fontWeight":"bold","color":"black"},"encoding":{"text":{"field":"t"}}},
   {"data":{"values":[{"x":-1120,"y":21.8,"t":"10 µA/cm²"},{"x":-1120,"y":-31.8,"t":"10 µA/cm²"}]},"mark":{"type":"text","align":"right","baseline":"middle","fontSize":6.3,"fontWeight":"bold","color":"black"},"encoding":{"text":{"field":"t"}}},
   {"data":{"values":[{"x":5297,"y":19.1,"t":"Sodium-dependent"},{"x":5297,"y":-48.5,"t":"Sodium-independent"}]},"mark":{"type":"text","align":"left","baseline":"middle","fontSize":7.8,"color":"black"},"encoding":{"text":{"field":"t"}}},
   {"data":{"values":[{"x":-1917,"y":74.5,"t":"E"}]},"mark":{"type":"text","align":"left","baseline":"middle","fontSize":11,"fontWeight":"bold","color":"black"},"encoding":{"text":{"field":"t"}}}
  ]
 }
]
}
